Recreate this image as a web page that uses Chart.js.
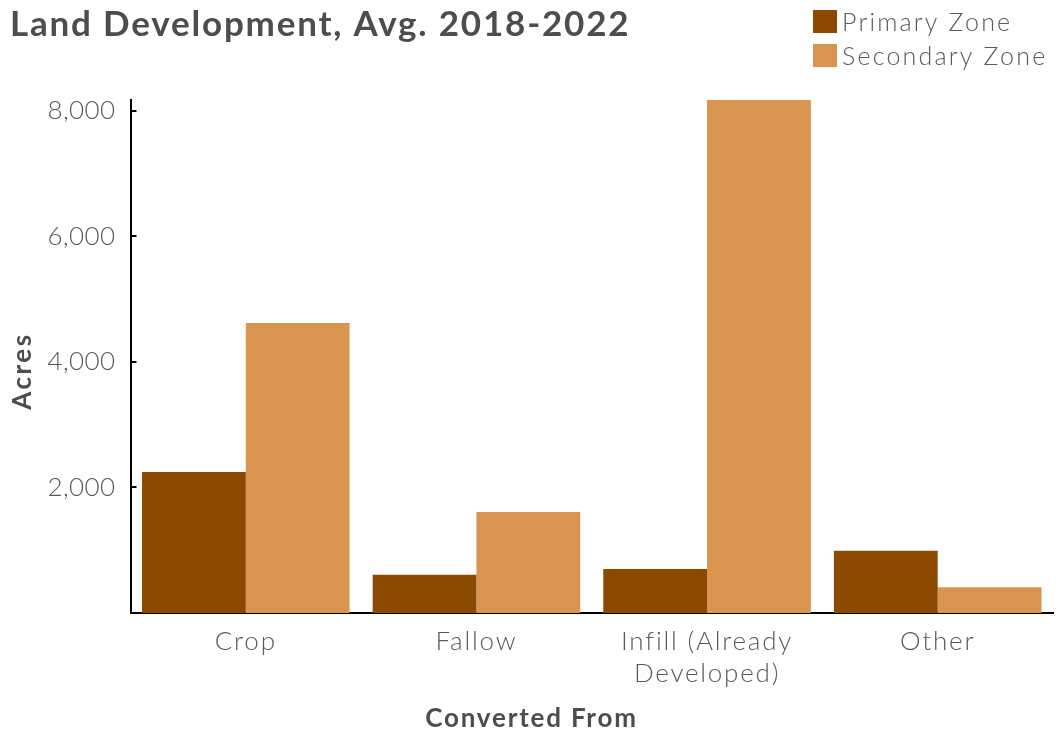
<!DOCTYPE html>
<html>
<head>
<meta charset="utf-8">
<title>Land Development</title>
<script src="https://cdn.jsdelivr.net/npm/chart.js@4.4.1/dist/chart.umd.min.js"></script>
<style>
  html, body { margin: 0; padding: 0; background: #fff; }
  #wrap { width: 1060px; height: 732px; }
</style>
</head>
<body>
<div id="wrap">
  <canvas id="landChart" width="1060" height="732"></canvas>
</div>
<script>
// acres converted per year, by previous land use
const categories = ['Crop', 'Fallow', ['Infill (Already', 'Developed)'], 'Other'];
const primaryZone = [2245, 610, 700, 990];
const secondaryZone = [4620, 1610, 8170, 410];
const yTicks = [2000, 4000, 6000, 8000];
const yMax = 8170;

const FONT = 'Lato, "Open Sans", sans-serif';
const TEXT = '#595959';

// Lato is narrower than the geometric face this was styled for, so widen it a bit.
// The y tick labels are drawn after the bars (ticks.z: 1) so they can use a tighter spacing.
const spacing = {
  id: 'spacing',
  beforeUpdate(chart) { chart.ctx.letterSpacing = '1.8px'; },
  beforeDraw(chart) { chart.ctx.letterSpacing = '1.8px'; },
  afterDatasetsDraw(chart) { chart.ctx.letterSpacing = '0.4px'; }
};

// stacked legend in the top right corner + rotated y axis title
const sideText = {
  id: 'sideText',
  afterDraw(chart) {
    const ctx = chart.ctx;
    ctx.save();
    ctx.textAlign = 'left';
    ctx.textBaseline = 'middle';
    ctx.letterSpacing = '2.2px';
    ctx.font = '300 25px ' + FONT;
    chart.data.datasets.forEach((ds, i) => {
      const y = 10 + i * 34;
      ctx.fillStyle = ds.backgroundColor;
      ctx.fillRect(813, y, 24, 23);
      ctx.fillStyle = TEXT;
      ctx.fillText(ds.label, 842, y + 13);
    });

    ctx.translate(23, 371);
    ctx.rotate(-Math.PI / 2);
    ctx.textAlign = 'center';
    ctx.letterSpacing = '2.5px';
    ctx.font = 'bold 26px ' + FONT;
    ctx.fillStyle = '#4d4d4d';
    ctx.fillText('Acres', 0, 0);
    ctx.restore();
  }
};

new Chart(document.getElementById('landChart'), {
  type: 'bar',
  data: {
    labels: categories,
    datasets: [
      { label: 'Primary Zone', data: primaryZone, backgroundColor: '#8b4a00' },
      { label: 'Secondary Zone', data: secondaryZone, backgroundColor: '#d9944f' }
    ]
  },
  options: {
    responsive: false,
    animation: false,
    layout: { padding: { left: 10, right: 7, top: 0, bottom: 0 } },
    datasets: {
      bar: { barPercentage: 1, categoryPercentage: 0.9, borderWidth: 0 }
    },
    plugins: {
      legend: { display: false },
      tooltip: { enabled: false },
      title: {
        display: true,
        text: 'Land Development, Avg. 2018-2022',
        align: 'start',
        color: '#4d4d4d',
        font: { family: FONT, size: 35, weight: 'bold', lineHeight: 1.2 },
        padding: { top: 4, bottom: 54 }
      },
      subtitle: {
        display: true,
        position: 'bottom',
        text: 'Converted From',
        color: '#4d4d4d',
        font: { family: FONT, size: 26, weight: 'bold', lineHeight: 1 },
        padding: { top: 10, bottom: 0 }
      }
    },
    scales: {
      x: {
        grid: { display: false, drawTicks: false },
        border: { display: true, color: '#000', width: 2 },
        ticks: {
          color: TEXT,
          padding: 13,
          maxRotation: 0,
          font: { family: FONT, size: 26, weight: '300', lineHeight: 1.22 }
        },
        afterFit(scale) { scale.height = 83; }
      },
      y: {
        min: 0,
        max: yMax,
        afterBuildTicks(scale) {
          scale.ticks = yTicks.map(v => ({ value: v }));
        },
        grid: {
          drawOnChartArea: false,
          drawTicks: true,
          tickLength: -6,
          color: '#000',
          lineWidth: 2
        },
        border: { display: true, color: '#000', width: 2 },
        ticks: {
          z: 1,
          color: TEXT,
          padding: 21,
          font: { family: FONT, size: 26, weight: '300' },
          callback: v => v.toLocaleString('en-US')
        },
        afterFit(scale) { scale.width = 120.5; }
      }
    }
  },
  plugins: [spacing, sideText]
});
</script>
</body>
</html>
